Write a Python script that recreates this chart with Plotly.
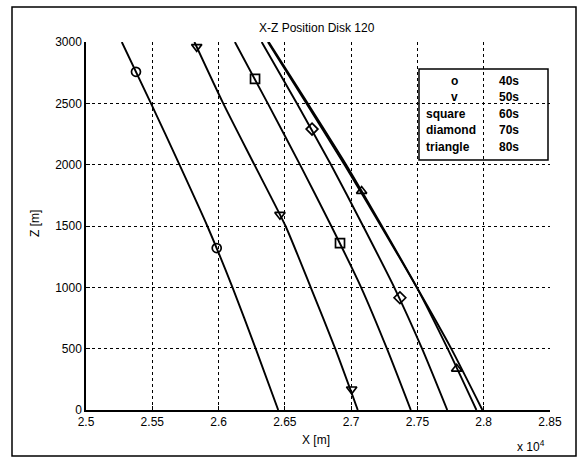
import plotly.graph_objects as go

# ---- data (x in metres, z in metres) ----
z_levels = [3000, 2500, 2000, 1500, 1000, 500, 0]
x_40s = [25270, 25490, 25705, 25915, 26105, 26280, 26450]
x_50s = [25818, 26035, 26270, 26505, 26695, 26880, 27050]
x_60s = [26123, 26371, 26614, 26850, 27075, 27270, 27450]
x_70s = [26325, 26590, 26848, 27090, 27325, 27535, 27725]
x_80s = [26378, 26672, 26962, 27232, 27495, 27728, 27945]
x_extra = [26372, 26662, 26950, 27225, 27495, 27755, 27990]

mk_40s_x = [25377, 25986]
mk_40s_z = [2757, 1320]
mk_50s_x = [25835, 26463, 27004]
mk_50s_z = [2961, 1592, 169]
mk_60s_x = [26275, 26916]
mk_60s_z = [2700, 1361]
mk_70s_x = [26705, 27368]
mk_70s_z = [2290, 915]
mk_80s_x = [27079, 27796]
mk_80s_z = [1785, 336]

x_tickvals = [25000, 25500, 26000, 26500, 27000, 27500, 28000, 28500]
x_ticktext = ["2.5", "2.55", "2.6", "2.65", "2.7", "2.75", "2.8", "2.85"]
z_tickvals = [0, 500, 1000, 1500, 2000, 2500, 3000]

legend_symbols = ["o", "v", "square", "diamond", "triangle"]
legend_times = ["40s", "50s", "60s", "70s", "80s"]

FONT = "Liberation Sans, Arial, sans-serif"

fig = go.Figure()
for xs in [x_40s, x_50s, x_60s, x_70s, x_80s, x_extra]:
    fig.add_trace(go.Scatter(x=xs, y=z_levels, mode="lines",
                             line=dict(color="black", width=1.9, shape="spline", smoothing=0.6),
                             showlegend=False, hoverinfo="skip"))

for mx, mz, sym in [(mk_40s_x, mk_40s_z, "circle-open"),
                    (mk_50s_x, mk_50s_z, "triangle-down-open"),
                    (mk_60s_x, mk_60s_z, "square-open"),
                    (mk_70s_x, mk_70s_z, "diamond-open"),
                    (mk_80s_x, mk_80s_z, "triangle-up-open")]:
    fig.add_trace(go.Scatter(x=mx, y=mz, mode="markers",
                             marker=dict(symbol=sym, size=9, color="black",
                                         line=dict(color="black", width=1.7)),
                             showlegend=False, hoverinfo="skip"))

L, R, T, B = 86, 36, 42, 48
W, H = 586, 458
pw, ph = W - L - R, H - T - B

def px(x):
    return (x - L) / pw

def py(y):
    return (H - B - y) / ph

fig.update_layout(
    width=W, height=H,
    margin=dict(l=L, r=R, t=T, b=B),
    paper_bgcolor="white", plot_bgcolor="white",
    font=dict(family=FONT, size=12, color="black"),
    showlegend=False,
)
fig.update_xaxes(range=[25000, 28500], tickvals=x_tickvals, ticktext=x_ticktext,
                 showgrid=True, gridcolor="black", gridwidth=1, griddash="dot",
                 showline=True, linecolor="black", linewidth=1.5,
                 ticks="inside", ticklen=4, tickcolor="black",
                 zeroline=False, tickfont=dict(size=12, family=FONT))
fig.update_yaxes(range=[0, 3000], tickvals=z_tickvals,
                 showgrid=True, gridcolor="black", gridwidth=1, griddash="dot",
                 showline=True, linecolor="black", linewidth=1.5,
                 ticks="inside", ticklen=4, tickcolor="black",
                 zeroline=False, tickfont=dict(size=12, family=FONT))

def A(text, x, y, xanchor="center", angle=0):
    return dict(text=text, xref="paper", yref="paper", x=px(x), y=py(y),
                xanchor=xanchor, yanchor="middle", textangle=angle,
                showarrow=False, font=dict(size=12))

ann = [
    A("X-Z Position Disk 120", 317, 28),
    A("X [m]", 316, 440),
    A("Z [m]", 35, 224, angle=-90),
    A("x 10<sup>4</sup>", 531, 446),
]

rows_y = [81, 97, 114, 130, 147]
for i, (s, t) in enumerate(zip(legend_symbols, legend_times)):
    if i < 2:
        ann.append(A("<b>%s</b>" % s, 454, rows_y[i]))
    else:
        ann.append(A("<b>%s</b>" % s, 424, rows_y[i], xanchor="left"))
    ann.append(A("<b>%s</b>" % t, 497, rows_y[i], xanchor="left"))
fig.update_layout(annotations=ann)

fig.add_shape(type="rect", xref="paper", yref="paper",
              x0=px(419), x1=px(548), y0=py(160), y1=py(69),
              line=dict(color="black", width=1.5), fillcolor="rgba(0,0,0,0)")
fig.add_shape(type="rect", xref="paper", yref="paper",
              x0=px(12), x1=px(576), y0=py(456), y1=py(7),
              line=dict(color="black", width=1.5), fillcolor="rgba(0,0,0,0)")

fig.write_html("out.html")
